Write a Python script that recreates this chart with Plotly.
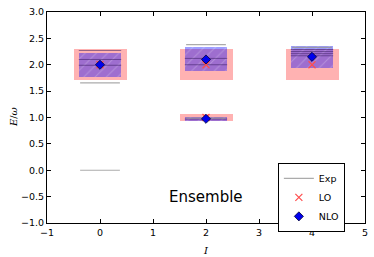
import plotly.graph_objects as go

# ---- data ----
level_I = [0, 2, 2, 4]
lo_val = [2.0, 1.0, 2.0, 2.0]
lo_lo = [1.71, 0.93, 1.72, 1.71]
lo_hi = [2.29, 1.075, 2.29, 2.29]
nlo_val = [2.0, 0.975, 2.1, 2.15]
nlo_lo = [1.77, 0.935, 1.88, 1.93]
nlo_hi = [2.23, 1.01, 2.33, 2.35]
ens_I = [0, 0, 0, 2, 2, 2, 4, 4, 4, 4]
ens_E = [2.27, 2.10, 1.99, 2.12, 2.0, 0.97, 2.29, 2.25, 2.21, 2.17]
exp_I = [0, 0, 2, 2, 4]
exp_E = [0.0, 1.655, 0.99, 2.38, 2.33]

fig = go.Figure()

# LO bands (pink)
fig.add_trace(go.Bar(x=level_I, y=[h - l for h, l in zip(lo_hi, lo_lo)], base=lo_lo,
                     width=1.0, marker=dict(color="rgba(255,0,0,0.3)", line=dict(width=0)),
                     showlegend=False, hoverinfo="skip"))
# NLO bands (blue, hatched)
fig.add_trace(go.Bar(x=level_I, y=[h - l for h, l in zip(nlo_hi, nlo_lo)], base=nlo_lo,
                     width=0.8, marker=dict(color="rgba(0,0,255,0.38)", line=dict(width=0),
                                            pattern=dict(shape="/", fgcolor="rgba(255,255,255,0.45)",
                                                         size=8, solidity=0.12)),
                     showlegend=False, hoverinfo="skip"))

# ensemble lines
for xi, e in zip(ens_I, ens_E):
    fig.add_trace(go.Scatter(x=[xi - 0.4, xi + 0.4], y=[e, e], mode="lines",
                             line=dict(color="rgba(50,20,90,0.5)", width=1),
                             showlegend=False, hoverinfo="skip"))

# experiment lines
for k, (xi, e) in enumerate(zip(exp_I, exp_E)):
    fig.add_trace(go.Scatter(x=[xi - 0.375, xi + 0.375], y=[e, e], mode="lines",
                             line=dict(color="rgba(150,150,150,0.8)", width=1.2),
                             name="Exp", showlegend=(k == 0), legendrank=1))

fig.add_trace(go.Scatter(x=level_I, y=lo_val, mode="markers", name="LO",
                         marker=dict(symbol="x-thin", size=7, line=dict(color="#ff4d4d", width=1.2)),
                         legendrank=2))
fig.add_trace(go.Scatter(x=level_I, y=nlo_val, mode="markers", name="NLO",
                         marker=dict(symbol="diamond", size=7, color="#0000ee",
                                     line=dict(color="#000033", width=0.8)),
                         legendrank=3))

fig.add_annotation(x=2, y=-0.5, text="Ensemble", showarrow=False,
                   font=dict(size=15, color="black", family="DejaVu Sans"))
fig.add_annotation(xref="paper", yref="paper", x=0.5, y=-0.095, yanchor="top",
                   text="<i>I</i>", showarrow=False,
                   font=dict(size=10, family="DejaVu Serif", color="black"))
fig.add_annotation(xref="paper", yref="paper", x=-0.105, y=0.5, xanchor="center",
                   text="<i>E</i>/<i>ω</i>", textangle=-90, showarrow=False,
                   font=dict(size=10, family="DejaVu Serif", color="black"))

axis_common = dict(showline=True, linecolor="black", linewidth=1.2, mirror="ticks",
                   ticks="inside", ticklen=4, tickcolor="black", showgrid=False, zeroline=False,
                   automargin=False,
                   tickfont=dict(size=9.5, family="DejaVu Sans", color="black"))

fig.update_xaxes(range=[-1, 5], dtick=1, tick0=0, **axis_common)
fig.update_yaxes(range=[-1, 3], dtick=0.5, tick0=0, tickformat=".1f", **axis_common)

fig.update_layout(width=374, height=257, margin=dict(l=47, r=9, t=12, b=34),
                  barmode="overlay", bargap=0, plot_bgcolor="white", paper_bgcolor="white",
                  legend=dict(x=0.726, y=0.285, xanchor="left", yanchor="top",
                              bordercolor="black", borderwidth=1, bgcolor="white",
                              font=dict(size=9.5, family="DejaVu Sans", color="black"),
                              itemwidth=30, tracegroupgap=0),
                  font=dict(family="DejaVu Sans"))

fig.write_html("out.html", config={"displayModeBar": False},
               post_script="document.body.style.margin='0';document.body.style.padding='0';")
